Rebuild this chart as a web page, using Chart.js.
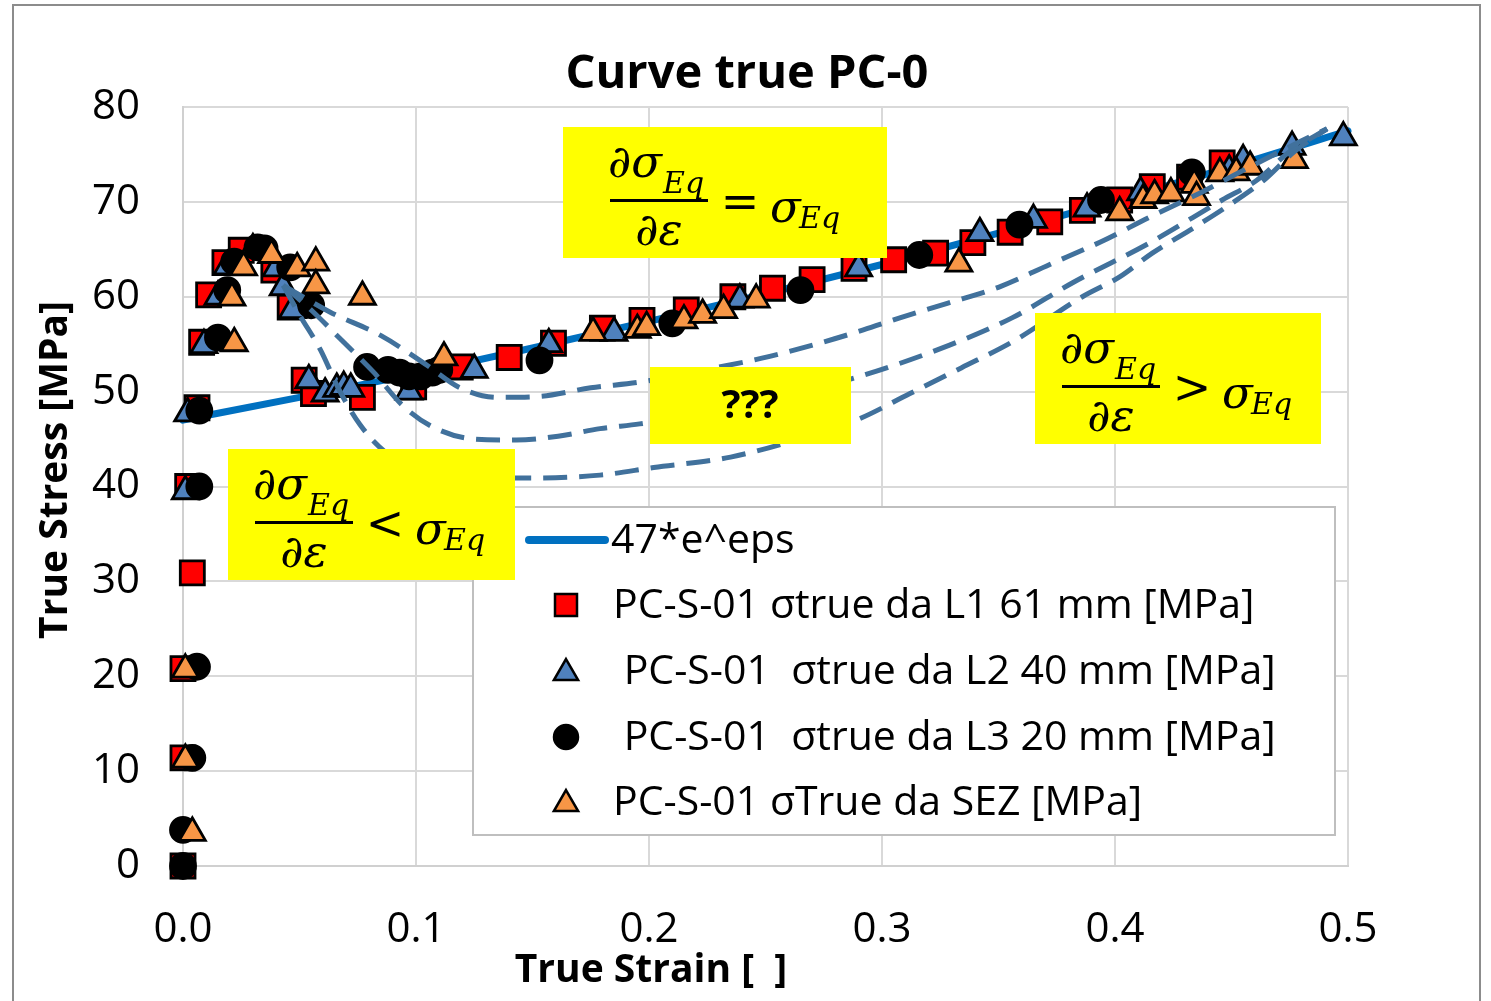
<!DOCTYPE html>
<html><head><meta charset="utf-8">
<script src="https://cdn.jsdelivr.net/npm/chart.js@4"></script>
<style>html,body{margin:0;padding:0;background:#fff}canvas{display:block}</style>
</head><body>
<canvas id="c" width="1491" height="1001" style="width:1491px;height:1001px"></canvas>
<script>
// ---- data ----
const chartTitle = 'Curve true PC-0';
const xTitle = 'True Strain [  ]';
const yTitle = 'True Stress [MPa]';
const xTickLabels = ['0.0','0.1','0.2','0.3','0.4','0.5'];
const yTickLabels = ['0','10','20','30','40','50','60','70','80'];

const fitLabel = '47*e^eps';
const fitStrain = [0,0.05,0.1,0.15,0.2,0.25,0.3,0.35,0.4,0.45,0.5];
const fitStress = [47.0,49.4,51.9,54.6,57.4,60.3,63.4,66.7,70.1,73.7,77.5];

const l1Label = 'PC-S-01 σtrue da L1 61 mm [MPa]';
const l1Strain = [0,0,0,0.004,0.002,0.006,0.008,0.011,0.018,0.025,0.039,0.046,0.052,0.056,0.077,0.099,0.119,0.140,0.159,0.180,0.197,0.216,0.236,0.253,0.270,0.288,0.305,0.323,0.339,0.355,0.372,0.386,0.402,0.416,0.432,0.446];
const l1Stress = [0,11.4,20.8,30.9,40.0,48.3,55.2,60.2,63.6,64.9,62.8,58.9,51.2,49.8,49.4,50.5,52.6,53.6,55.1,56.7,57.5,58.6,60.0,60.9,61.8,63.0,63.9,64.6,65.7,66.8,67.9,69.1,70.2,71.6,72.6,74.1];

const l2Label = ' PC-S-01  σtrue da L2 40 mm [MPa]';
const l2Strain = [0.001,0.002,0.009,0.015,0.019,0.030,0.040,0.043,0.047,0.054,0.061,0.066,0.069,0.072,0.097,0.125,0.157,0.185,0.239,0.290,0.342,0.365,0.388,0.411,0.449,0.455,0.476,0.498];
const l2Stress = [39.5,47.7,54.9,60.0,63.2,65.0,63.0,61.0,58.6,51.2,49.8,50.3,50.5,50.3,50.0,52.3,55.0,56.2,59.7,63.0,66.7,68.1,69.3,71.0,73.3,74.4,75.8,76.8];

const l3Label = ' PC-S-01  σtrue da L3 20 mm [MPa]';
const l3Strain = [0,0,0.004,0.006,0.007,0.007,0.015,0.019,0.022,0.032,0.035,0.046,0.055,0.079,0.088,0.093,0.097,0.102,0.107,0.110,0.153,0.210,0.265,0.316,0.359,0.394,0.433];
const l3Stress = [0,3.8,11.4,21.0,40.0,48.0,55.7,60.7,63.7,65.2,65.1,63.1,59.1,52.6,52.3,52.0,51.6,51.6,52.0,52.3,53.3,57.2,60.7,64.4,67.6,70.2,73.1];

const sezLabel = 'PC-S-01 σTrue da SEZ [MPa]';
const sezStrain = [0.004,0.001,0.001,0.022,0.021,0.026,0.038,0.049,0.057,0.057,0.077,0.112,0.176,0.195,0.199,0.215,0.223,0.232,0.246,0.333,0.402,0.412,0.417,0.424,0.434,0.435,0.445,0.452,0.458,0.477];
const sezStress = [3.5,11.2,20.7,55.1,59.9,63.1,64.4,63.0,63.6,61.2,60.0,53.6,56.2,56.5,56.8,57.5,58.1,58.6,59.7,63.5,68.9,70.2,70.7,70.9,71.8,70.5,73.0,73.1,73.7,74.4];

// sketched dashed curves
const upperStrain = [0.043,0.063,0.085,0.104,0.119,0.135,0.153,0.175,0.196,0.222,0.248,0.273,0.292,0.308,0.328,0.351,0.372,0.394,0.415,0.437,0.458,0.479,0.491];
const upperStress = [61.2,58.4,55.9,52.9,50.4,49.4,49.5,50.4,51.0,52.2,53.5,55.1,56.5,57.8,59.3,61.1,63.4,65.8,68.4,71.0,73.7,76.3,77.7];
const midStrain = [0.043,0.055,0.069,0.082,0.094,0.107,0.125,0.143,0.161,0.179,0.196,0.243,0.289,0.329,0.356,0.382,0.415,0.446,0.461,0.475,0.491];
const midStress = [61.2,58.6,55.2,52.0,48.6,46.3,45.0,44.9,45.3,46.1,46.6,48.6,51.5,54.9,57.8,61.5,65.7,70.2,72.3,75.3,77.7];
const lowStrain = [0.043,0.050,0.059,0.067,0.076,0.087,0.102,0.123,0.149,0.179,0.202,0.235,0.267,0.289,0.312,0.334,0.357,0.386,0.402,0.416,0.432,0.448,0.464,0.477,0.491];
const lowStress = [61.2,58.1,54.4,50.2,46.5,43.6,41.7,40.9,40.9,41.2,42.0,43.1,45.2,47.0,49.8,52.5,55.4,60.0,62.1,64.6,67.0,69.5,72.3,75.3,77.7];

const noteEqual = '=';
const noteGreater = '>';
const noteLess = '<';
const noteUnknown = '???';

// ---- helpers ----
const pts = (xs, ys) => xs.map((x, i) => ({x: x, y: ys[i]}));
const SANS = '"Open Sans", "Noto Sans", sans-serif';
const SERIF = '"DejaVu Serif", "Liberation Serif", serif';

const RED = '#FF0000', BLUE = '#4F81BD', ORANGE = '#F79646', FIT = '#0070C0', DASH = '#41719C';

function markerDs(label, xs, ys, style, color, radius, order) {
  return {
    label: label, data: pts(xs, ys), showLine: false, order: order,
    pointStyle: style, pointRadius: radius, pointHoverRadius: radius,
    pointBackgroundColor: color, pointBorderColor: '#000', pointBorderWidth: 2.8,
    clip: false
  };
}
function dashDs(xs, ys) {
  return {
    label: '', data: pts(xs, ys), showLine: true, order: 0,
    borderColor: DASH, borderWidth: 5, borderDash: [24, 12], pointRadius: 0,
    cubicInterpolationMode: 'monotone', fill: false, clip: false
  };
}

function drawFormula(ctx, bx, by, bw, bh, op, dx) {
  ctx.save();
  ctx.fillStyle = '#FFFF00';
  ctx.fillRect(bx, by, bw, bh);
  ctx.fillStyle = '#000';
  const big = 'italic 45px ' + SERIF, sub = 'italic 30px ' + SERIF;
  ctx.textBaseline = 'alphabetic';
  ctx.textAlign = 'left';
  ctx.font = big; ctx.fillText('∂σ', bx + 25 + dx, by + 50);
  ctx.font = sub; ctx.fillText('Eq', bx + 80 + dx, by + 66);
  ctx.fillRect(bx + 27 + dx, by + 72, 98, 3);
  ctx.font = big; ctx.textAlign = 'center'; ctx.fillText('∂ε', bx + 76 + dx, by + 118);
  ctx.font = '46px ' + SERIF; ctx.fillText(op, bx + 157 + dx, by + 90);
  ctx.textAlign = 'left';
  ctx.font = big; ctx.fillText('σ', bx + 187 + dx, by + 95);
  ctx.font = sub; ctx.fillText('Eq', bx + 216 + dx, by + 101);
  ctx.restore();
}

function drawMarker(ctx, style, x, y, color) {
  ctx.save();
  ctx.fillStyle = color; ctx.strokeStyle = '#000'; ctx.lineWidth = 2.5;
  ctx.beginPath();
  if (style === 'rect') { ctx.rect(x - 11, y - 11, 22, 22); }
  else if (style === 'circle') { ctx.arc(x, y, 12, 0, Math.PI * 2); }
  else { const r = 14; ctx.moveTo(x, y - r); ctx.lineTo(x + r * 0.866, y + r * 0.5); ctx.lineTo(x - r * 0.866, y + r * 0.5); ctx.closePath(); }
  ctx.fill(); ctx.stroke();
  ctx.restore();
}

const decor = {
  id: 'decor',
  beforeDraw(chart) {
    const ctx = chart.ctx;
    ctx.save();
    ctx.fillStyle = '#fff';
    ctx.fillRect(0, 0, chart.width, chart.height);
    ctx.strokeStyle = '#8C8C8C'; ctx.lineWidth = 2;
    ctx.strokeRect(13, 5, 1467, 1100);
    ctx.restore();
  },
  afterDraw(chart) {
    const ctx = chart.ctx;
    ctx.save();
    // title
    ctx.fillStyle = '#000';
    ctx.textAlign = 'center'; ctx.textBaseline = 'alphabetic';
    ctx.font = 'bold 47px ' + SANS;
    ctx.fillText(chartTitle, 747, 88);
    // axis titles
    ctx.font = 'bold 39px ' + SANS;
    ctx.fillText(xTitle, 651, 982);
    ctx.save();
    ctx.translate(67, 470); ctx.rotate(-Math.PI / 2);
    ctx.fillText(yTitle, 0, 0);
    ctx.restore();

    // legend
    ctx.fillStyle = '#fff'; ctx.fillRect(473, 507, 862, 328);
    ctx.strokeStyle = '#BFBFBF'; ctx.lineWidth = 2; ctx.strokeRect(473, 507, 862, 328);
    ctx.strokeStyle = FIT; ctx.lineWidth = 8; ctx.lineCap = 'round';
    ctx.beginPath(); ctx.moveTo(529, 540); ctx.lineTo(605, 540); ctx.stroke();
    drawMarker(ctx, 'rect', 566, 605, RED);
    drawMarker(ctx, 'triangle', 566, 673, BLUE);
    drawMarker(ctx, 'circle', 566, 737, '#000');
    drawMarker(ctx, 'triangle', 566, 804, ORANGE);
    ctx.fillStyle = '#000'; ctx.textAlign = 'left'; ctx.textBaseline = 'middle';
    ctx.font = '41px ' + SANS;
    ctx.fillText(fitLabel, 611, 541);
    ctx.fillText(l1Label, 613, 606);
    ctx.fillText(l2Label, 613, 672);
    ctx.fillText(l3Label, 613, 738);
    ctx.fillText(sezLabel, 613, 803);

    // yellow notes
    drawFormula(ctx, 563, 127, 324, 131, noteEqual, 20);
    drawFormula(ctx, 1035, 313, 286, 131, noteGreater, 0);
    drawFormula(ctx, 228, 449, 287, 131, noteLess, 0);
    ctx.fillStyle = '#FFFF00'; ctx.fillRect(650, 367, 201, 77);
    ctx.fillStyle = '#000'; ctx.textAlign = 'center'; ctx.textBaseline = 'middle';
    ctx.font = 'bold 40px ' + SANS;
    ctx.fillText(noteUnknown, 750, 407);
    ctx.restore();
  }
};

new Chart(document.getElementById('c'), {
  type: 'scatter',
  data: {
    datasets: [
      dashDs(upperStrain, upperStress),
      dashDs(midStrain, midStress),
      dashDs(lowStrain, lowStress),
      markerDs(sezLabel, sezStrain, sezStress, 'triangle', ORANGE, 15, 1),
      markerDs(l3Label, l3Strain, l3Stress, 'circle', '#000', 12.5, 2),
      markerDs(l2Label, l2Strain, l2Stress, 'triangle', BLUE, 15, 3),
      markerDs(l1Label, l1Strain, l1Stress, 'rect', RED, 17, 4),
      { label: fitLabel, data: pts(fitStrain, fitStress), showLine: true, order: 5,
        borderColor: FIT, borderWidth: 7, pointRadius: 0, borderCapStyle: 'round',
        cubicInterpolationMode: 'monotone', clip: false }
    ]
  },
  options: {
    responsive: false, animation: false, devicePixelRatio: 1,
    layout: { padding: { left: 0, top: 107, right: 143, bottom: 0 } },
    plugins: { legend: { display: false }, title: { display: false }, tooltip: { enabled: false } },
    events: [],
    scales: {
      x: {
        type: 'linear', min: 0, max: 0.5,
        afterFit(s) { s.height = 135; },
        grid: { color: '#D9D9D9', lineWidth: 2, drawTicks: false },
        border: { color: '#D0D0D0', width: 2 },
        ticks: { stepSize: 0.1, padding: 39, color: '#000', font: { family: SANS, size: 42 },
          callback: (v, i) => xTickLabels[Math.round(v * 10)] },
        title: { display: false }
      },
      y: {
        type: 'linear', min: 0, max: 80,
        afterFit(s) { s.width = 183; },
        grid: { color: '#D9D9D9', lineWidth: 2, drawTicks: false },
        border: { color: '#D0D0D0', width: 2 },
        ticks: { stepSize: 10, padding: 43, color: '#000', font: { family: SANS, size: 42 },
          callback: (v) => yTickLabels[Math.round(v / 10)] },
        title: { display: false }
      }
    }
  },
  plugins: [decor]
});
</script>
</body></html>
